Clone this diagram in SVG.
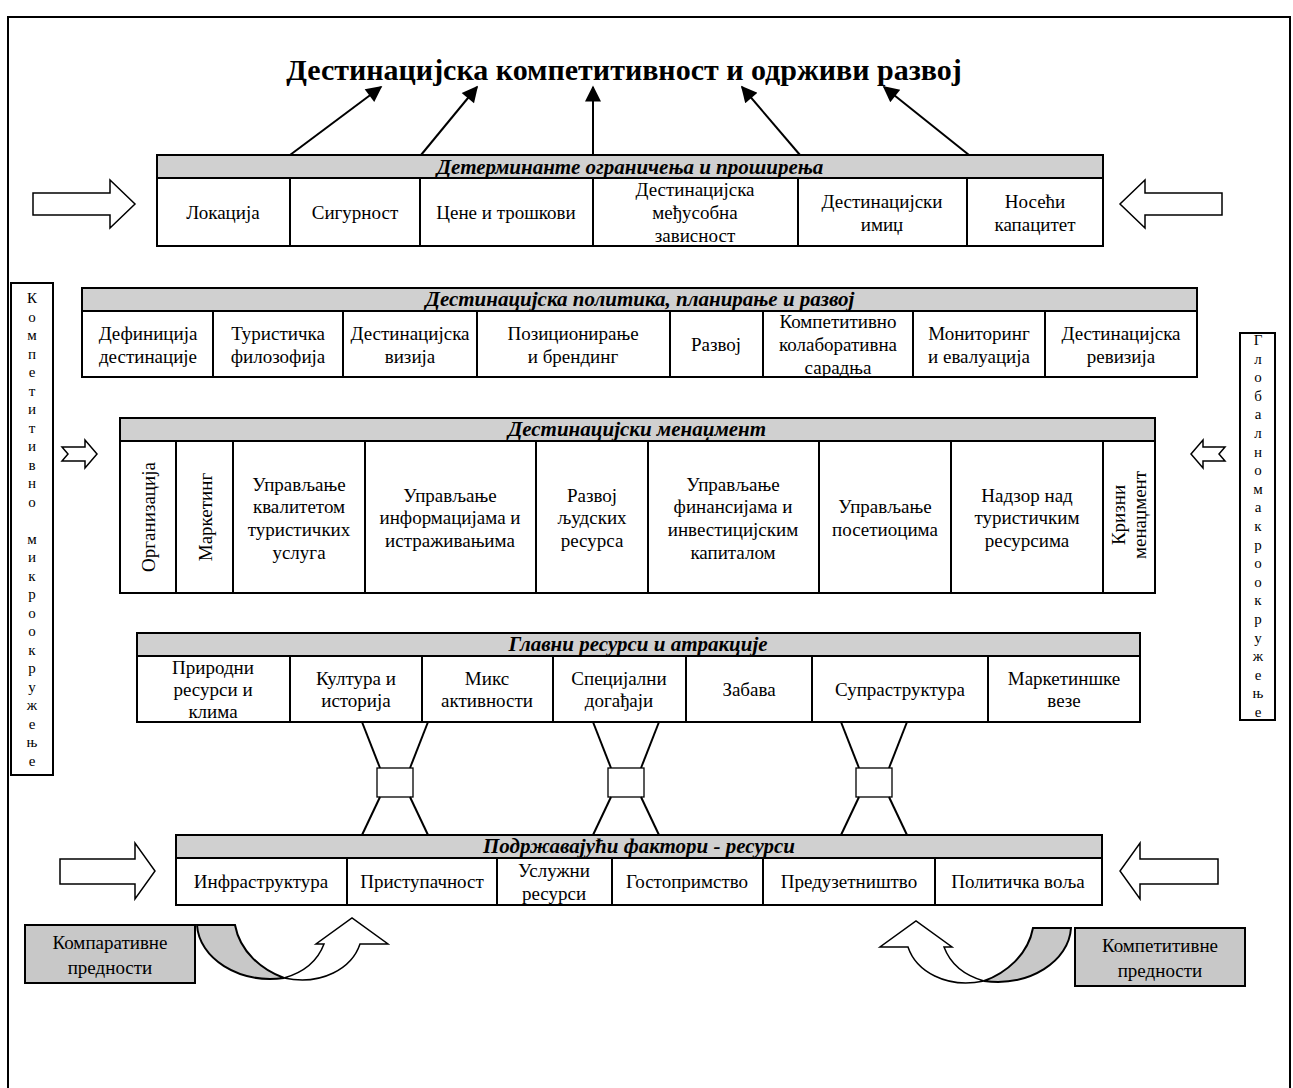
<svg xmlns="http://www.w3.org/2000/svg" width="1293" height="1088" viewBox="0 0 1293 1088">
<style>
.bx{fill:#fff;stroke:#000;stroke-width:2}
.hd{fill:#d0d0d0;stroke:#000;stroke-width:2}
.dv{stroke:#000;stroke-width:2}
.t{font-family:"Liberation Serif","Times New Roman",serif;font-size:19px;text-anchor:middle;fill:#000}
.h{font-family:"Liberation Serif","Times New Roman",serif;font-size:21px;font-weight:bold;font-style:italic;text-anchor:middle;fill:#000}
.v{font-family:"Liberation Serif","Times New Roman",serif;font-size:15px;text-anchor:middle;fill:#000}
.ha{fill:#fff;stroke:#000;stroke-width:1.5;stroke-linejoin:miter}
.cn{stroke:#000;stroke-width:2;fill:none}
.hg{fill:#fff;stroke:#000;stroke-width:1.3}
.gb{fill:#c8c8c8;stroke:#000;stroke-width:2}
</style>
<defs>
<marker id="ah" viewBox="0 0 10 10" refX="9" refY="5" markerUnits="userSpaceOnUse" markerWidth="20" markerHeight="16" orient="auto">
<path d="M0,0 L10,5 L0,10 z" fill="#000"/>
</marker>
</defs>
<rect width="1293" height="1088" fill="#fff"/>
<path d="M8,1088 V17 H1290 V1088" fill="none" stroke="#000" stroke-width="2"/>

<g id="title">
<text x="624" y="80" font-family="Liberation Serif, serif" font-size="30" font-weight="bold" text-anchor="middle">Дестинацијска компетитивност и одрживи развој</text>
</g>

<g id="connectors">
<line class="cn" x1="290" y1="155" x2="381" y2="87" marker-end="url(#ah)"/>
<line class="cn" x1="421" y1="155" x2="477" y2="87" marker-end="url(#ah)"/>
<line class="cn" x1="593" y1="155" x2="593" y2="87" marker-end="url(#ah)"/>
<line class="cn" x1="800" y1="155" x2="742" y2="87" marker-end="url(#ah)"/>
<line class="cn" x1="969" y1="155" x2="884" y2="87" marker-end="url(#ah)"/>
<polygon class="ha" points="33,193 110,193 110,180 135,204 110,228 110,215 33,215"/>
<polygon class="ha" points="1222,193 1145,193 1145,180 1120,204 1145,228 1145,215 1222,215"/>
<polygon class="ha" points="62,447 85,447 85,440 97,454 85,468 85,461 62,461 68,454"/>
<polygon class="ha" points="1225,447 1203,447 1203,440 1191,454 1203,468 1203,461 1225,461 1219,454"/>
<polygon class="ha" points="60,859 135,859 135,843 155,871 135,899 135,884 60,884"/>
<polygon class="ha" points="1218,859 1140,859 1140,843 1120,871 1140,899 1140,884 1218,884"/>
<g id="hourglass1">
<line class="dv" x1="362" y1="722" x2="380" y2="768" stroke-width="1.3"/>
<line class="dv" x1="428" y1="722" x2="410" y2="768" stroke-width="1.3"/>
<rect class="hg" x="377" y="768" width="36" height="29"/>
<line class="dv" x1="380" y1="797" x2="362" y2="835" stroke-width="1.3"/>
<line class="dv" x1="410" y1="797" x2="428" y2="835" stroke-width="1.3"/>
</g>
<g id="hourglass2">
<line class="dv" x1="593" y1="722" x2="611" y2="768" stroke-width="1.3"/>
<line class="dv" x1="659" y1="722" x2="641" y2="768" stroke-width="1.3"/>
<rect class="hg" x="608" y="768" width="36" height="29"/>
<line class="dv" x1="611" y1="797" x2="593" y2="835" stroke-width="1.3"/>
<line class="dv" x1="641" y1="797" x2="659" y2="835" stroke-width="1.3"/>
</g>
<g id="hourglass3">
<line class="dv" x1="841" y1="722" x2="859" y2="768" stroke-width="1.3"/>
<line class="dv" x1="907" y1="722" x2="889" y2="768" stroke-width="1.3"/>
<rect class="hg" x="856" y="768" width="36" height="29"/>
<line class="dv" x1="859" y1="797" x2="841" y2="835" stroke-width="1.3"/>
<line class="dv" x1="889" y1="797" x2="907" y2="835" stroke-width="1.3"/>
</g>
<g id="uturn-left">
<path class="gb" stroke-width="1.5" d="M197,925 C199,958 238,984 284,978 C262,970 240,952 235,925 Z"/>
<path class="ha" d="M284,978 C305,972 318,960 324,944 L316,944 L352,918 L388,944 L360,944 C352,968 322,986 284,978 Z"/>
</g>
<g id="uturn-right" transform="translate(1268,3) scale(-1,1)">
<path class="gb" stroke-width="1.5" d="M197,925 C199,958 238,984 284,978 C262,970 240,952 235,925 Z"/>
<path class="ha" d="M284,978 C305,972 318,960 324,944 L316,944 L352,918 L388,944 L360,944 C352,968 322,986 284,978 Z"/>
</g>
</g>

<g id="determinants">
<rect class="hd" x="157" y="155" width="946" height="23"/>
<rect class="bx" x="157" y="178" width="946" height="68"/>
<line class="dv" x1="290" y1="178" x2="290" y2="246"/>
<line class="dv" x1="420" y1="178" x2="420" y2="246"/>
<line class="dv" x1="593" y1="178" x2="593" y2="246"/>
<line class="dv" x1="798" y1="178" x2="798" y2="246"/>
<line class="dv" x1="967" y1="178" x2="967" y2="246"/>
<text class="h" x="630" y="174">Детерминанте ограничења и проширења</text>
<text class="t" x="223" y="219">Локација</text>
<text class="t" x="355" y="219">Сигурност</text>
<text class="t" x="506" y="219">Цене и трошкови</text>
<text class="t" x="695" y="196">Дестинацијска</text>
<text class="t" x="695" y="219">међусобна</text>
<text class="t" x="695" y="242">зависност</text>
<text class="t" x="882" y="208">Дестинацијски</text>
<text class="t" x="882" y="231">имиџ</text>
<text class="t" x="1035" y="208">Носећи</text>
<text class="t" x="1035" y="231">капацитет</text>
</g>

<g id="micro">
<rect class="bx" x="11" y="283" width="42" height="492"/>
<text class="v" x="32"><tspan x="32" y="303">К</tspan><tspan x="32" dy="18.5">о</tspan><tspan x="32" dy="18.5">м</tspan><tspan x="32" dy="18.5">п</tspan><tspan x="32" dy="18.5">е</tspan><tspan x="32" dy="18.5">т</tspan><tspan x="32" dy="18.5">и</tspan><tspan x="32" dy="18.5">т</tspan><tspan x="32" dy="18.5">и</tspan><tspan x="32" dy="18.5">в</tspan><tspan x="32" dy="18.5">н</tspan><tspan x="32" dy="18.5">о</tspan><tspan x="32" dy="37">м</tspan><tspan x="32" dy="18.5">и</tspan><tspan x="32" dy="18.5">к</tspan><tspan x="32" dy="18.5">р</tspan><tspan x="32" dy="18.5">о</tspan><tspan x="32" dy="18.5">о</tspan><tspan x="32" dy="18.5">к</tspan><tspan x="32" dy="18.5">р</tspan><tspan x="32" dy="18.5">у</tspan><tspan x="32" dy="18.5">ж</tspan><tspan x="32" dy="18.5">е</tspan><tspan x="32" dy="18.5">њ</tspan><tspan x="32" dy="18.5">е</tspan></text>
</g>

<g id="macro">
<rect class="bx" x="1240" y="333" width="35" height="387"/>
<text class="v" x="1258"><tspan x="1258" y="345">Г</tspan><tspan x="1258" dy="18.6">л</tspan><tspan x="1258" dy="18.6">о</tspan><tspan x="1258" dy="18.6">б</tspan><tspan x="1258" dy="18.6">а</tspan><tspan x="1258" dy="18.6">л</tspan><tspan x="1258" dy="18.6">н</tspan><tspan x="1258" dy="18.6">о</tspan><tspan x="1258" dy="18.6">м</tspan><tspan x="1258" dy="18.6">а</tspan><tspan x="1258" dy="18.6">к</tspan><tspan x="1258" dy="18.6">р</tspan><tspan x="1258" dy="18.6">о</tspan><tspan x="1258" dy="18.6">о</tspan><tspan x="1258" dy="18.6">к</tspan><tspan x="1258" dy="18.6">р</tspan><tspan x="1258" dy="18.6">у</tspan><tspan x="1258" dy="18.6">ж</tspan><tspan x="1258" dy="18.6">е</tspan><tspan x="1258" dy="18.6">њ</tspan><tspan x="1258" dy="18.6">е</tspan></text>
</g>

<g id="policy">
<rect class="hd" x="82" y="288" width="1115" height="23"/>
<rect class="bx" x="82" y="311" width="1115" height="66"/>
<line class="dv" x1="213" y1="311" x2="213" y2="377"/>
<line class="dv" x1="343" y1="311" x2="343" y2="377"/>
<line class="dv" x1="477" y1="311" x2="477" y2="377"/>
<line class="dv" x1="670" y1="311" x2="670" y2="377"/>
<line class="dv" x1="763" y1="311" x2="763" y2="377"/>
<line class="dv" x1="913" y1="311" x2="913" y2="377"/>
<line class="dv" x1="1045" y1="311" x2="1045" y2="377"/>
<text class="h" x="640" y="306">Дестинацијска политика, планирање и развој</text>
<text class="t" x="148" y="340">Дефиниција</text>
<text class="t" x="148" y="363">дестинације</text>
<text class="t" x="278" y="340">Туристичка</text>
<text class="t" x="278" y="363">филозофија</text>
<text class="t" x="410" y="340">Дестинацијска</text>
<text class="t" x="410" y="363">визија</text>
<text class="t" x="573" y="340">Позиционирање</text>
<text class="t" x="573" y="363">и брендинг</text>
<text class="t" x="716" y="351">Развој</text>
<text class="t" x="838" y="328">Компетитивно</text>
<text class="t" x="838" y="351">колаборативна</text>
<text class="t" x="838" y="374">сарадња</text>
<text class="t" x="979" y="340">Мониторинг</text>
<text class="t" x="979" y="363">и евалуација</text>
<text class="t" x="1121" y="340">Дестинацијска</text>
<text class="t" x="1121" y="363">ревизија</text>
</g>

<g id="management">
<rect class="hd" x="120" y="418" width="1035" height="23"/>
<rect class="bx" x="120" y="441" width="1035" height="152"/>
<line class="dv" x1="176" y1="441" x2="176" y2="593"/>
<line class="dv" x1="233" y1="441" x2="233" y2="593"/>
<line class="dv" x1="365" y1="441" x2="365" y2="593"/>
<line class="dv" x1="536" y1="441" x2="536" y2="593"/>
<line class="dv" x1="648" y1="441" x2="648" y2="593"/>
<line class="dv" x1="819" y1="441" x2="819" y2="593"/>
<line class="dv" x1="951" y1="441" x2="951" y2="593"/>
<line class="dv" x1="1103" y1="441" x2="1103" y2="593"/>
<text class="h" x="637" y="436">Дестинацијски менаџмент</text>
<text class="t" transform="translate(155,517) rotate(-90)">Организација</text>
<text class="t" transform="translate(212,517) rotate(-90)">Маркетинг</text>
<text class="t" x="299" y="491">Управљање</text>
<text class="t" x="299" y="513">квалитетом</text>
<text class="t" x="299" y="536">туристичких</text>
<text class="t" x="299" y="559">услуга</text>
<text class="t" x="450" y="502">Управљање</text>
<text class="t" x="450" y="524">информацијама и</text>
<text class="t" x="450" y="547">истраживањима</text>
<text class="t" x="592" y="502">Развој</text>
<text class="t" x="592" y="524">људских</text>
<text class="t" x="592" y="547">ресурса</text>
<text class="t" x="733" y="491">Управљање</text>
<text class="t" x="733" y="513">финансијама и</text>
<text class="t" x="733" y="536">инвестицијским</text>
<text class="t" x="733" y="559">капиталом</text>
<text class="t" x="885" y="513">Управљање</text>
<text class="t" x="885" y="536">посетиоцима</text>
<text class="t" x="1027" y="502">Надзор над</text>
<text class="t" x="1027" y="524">туристичким</text>
<text class="t" x="1027" y="547">ресурсима</text>
<text class="t" transform="translate(1125,515) rotate(-90)">Кризни</text>
<text class="t" transform="translate(1146,515) rotate(-90)">менаџмент</text>
</g>

<g id="resources">
<rect class="hd" x="137" y="633" width="1003" height="23"/>
<rect class="bx" x="137" y="656" width="1003" height="66"/>
<line class="dv" x1="290" y1="656" x2="290" y2="722"/>
<line class="dv" x1="422" y1="656" x2="422" y2="722"/>
<line class="dv" x1="553" y1="656" x2="553" y2="722"/>
<line class="dv" x1="686" y1="656" x2="686" y2="722"/>
<line class="dv" x1="812" y1="656" x2="812" y2="722"/>
<line class="dv" x1="988" y1="656" x2="988" y2="722"/>
<text class="h" x="638" y="651">Главни ресурси и атракције</text>
<text class="t" x="213" y="674">Природни</text>
<text class="t" x="213" y="696">ресурси и</text>
<text class="t" x="213" y="718">клима</text>
<text class="t" x="356" y="685">Култура и</text>
<text class="t" x="356" y="707">историја</text>
<text class="t" x="487" y="685">Микс</text>
<text class="t" x="487" y="707">активности</text>
<text class="t" x="619" y="685">Специјални</text>
<text class="t" x="619" y="707">догађаји</text>
<text class="t" x="749" y="696">Забава</text>
<text class="t" x="900" y="696">Супраструктура</text>
<text class="t" x="1064" y="685">Маркетиншке</text>
<text class="t" x="1064" y="707">везе</text>
</g>

<g id="supporting">
<rect class="hd" x="176" y="835" width="926" height="23"/>
<rect class="bx" x="176" y="858" width="926" height="47"/>
<line class="dv" x1="347" y1="858" x2="347" y2="905"/>
<line class="dv" x1="497" y1="858" x2="497" y2="905"/>
<line class="dv" x1="612" y1="858" x2="612" y2="905"/>
<line class="dv" x1="763" y1="858" x2="763" y2="905"/>
<line class="dv" x1="935" y1="858" x2="935" y2="905"/>
<text class="h" x="639" y="853">Подржавајући фактори - ресурси</text>
<text class="t" x="261" y="888">Инфраструктура</text>
<text class="t" x="422" y="888">Приступачност</text>
<text class="t" x="554" y="877">Услужни</text>
<text class="t" x="554" y="900">ресурси</text>
<text class="t" x="687" y="888">Гостопримство</text>
<text class="t" x="849" y="888">Предузетништво</text>
<text class="t" x="1018" y="888">Политичка воља</text>
</g>

<g id="comparative">
<rect class="gb" x="25" y="925" width="170" height="58"/>
<text class="t" x="110" y="949">Компаративне</text>
<text class="t" x="110" y="974">предности</text>
</g>

<g id="competitive">
<rect class="gb" x="1075" y="928" width="170" height="58"/>
<text class="t" x="1160" y="952">Компетитивне</text>
<text class="t" x="1160" y="977">предности</text>
</g>
</svg>
